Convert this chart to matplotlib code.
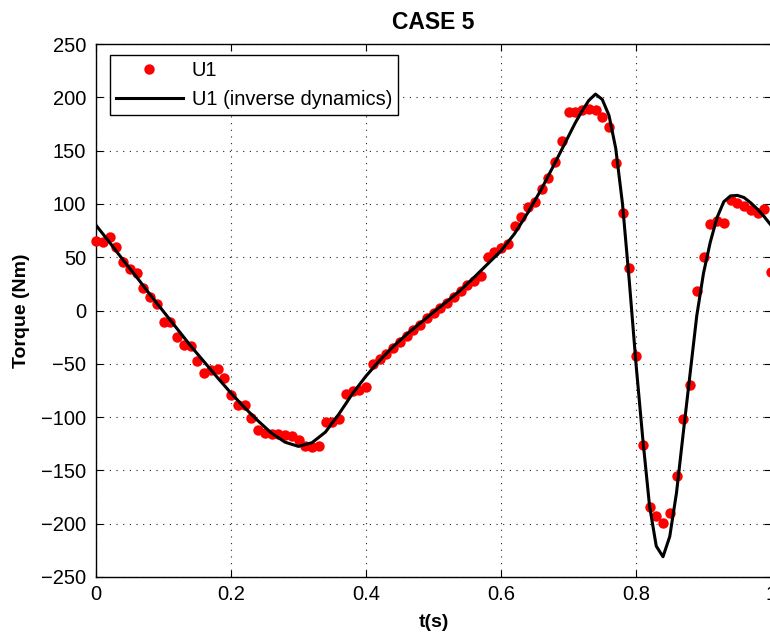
import numpy as np
import matplotlib
matplotlib.use("Agg")
import matplotlib.pyplot as plt

plt.rcParams['font.family'] = ['Liberation Sans', 'DejaVu Sans']

# Measured torque samples (U1), t = 0 .. 1.0 s, step 0.01
u1_t = [i / 100 for i in range(101)]
u1_vals = [
    65.5, 64.6, 68.7, 59.9, 45.8, 39.3, 35.6, 21.4, 13.0, 6.1,
    -11.1, -11.1, -25.1, -32.4, -33.0, -47.1, -58.3, -55.8, -55.2, -63.0,
    -79.3, -89.0, -89.0, -100.6, -112.0, -115.2, -115.9, -116.0, -117.0, -117.8,
    -121.5, -127.0, -127.8, -127.0, -105.0, -104.3, -102.0, -78.5, -75.5, -74.6,
    -71.5, -50.5, -45.6, -40.5, -34.9, -29.9, -23.6, -18.3, -13.6, -7.3,
    -2.7, 2.7, 7.3, 13.0, 18.3, 23.9, 28.0, 32.4, 50.5, 54.6,
    58.3, 62.1, 79.3, 88.0, 97.4, 102.0, 114.3, 124.0, 139.0, 159.3,
    186.5, 186.5, 188.0, 189.0, 188.0, 181.8, 171.9, 138.6, 91.2, 39.6,
    -43.0, -126.2, -184.6, -192.5, -199.0, -190.3, -155.3, -101.8, -69.9, 18.3,
    49.9, 81.1, 84.2, 81.8, 103.7, 100.6, 98.0, 94.3, 91.7, 95.2,
    36.4,
]

# Inverse dynamics curve
inv_t = [0.00, 0.02, 0.04, 0.06, 0.08, 0.10, 0.12, 0.14, 0.16, 0.18,
         0.20, 0.22, 0.24, 0.26, 0.28, 0.30, 0.32, 0.34, 0.36, 0.38,
         0.40, 0.42, 0.44, 0.46, 0.48, 0.50, 0.52, 0.54, 0.56, 0.58,
         0.60, 0.62, 0.64, 0.66, 0.68, 0.70, 0.71, 0.72, 0.73, 0.74,
         0.75, 0.76, 0.77, 0.78, 0.79, 0.80, 0.81, 0.82, 0.83, 0.84,
         0.85, 0.86, 0.87, 0.88, 0.89, 0.90, 0.91, 0.92, 0.93, 0.94,
         0.95, 0.96, 0.97, 0.98, 0.99, 1.00]
inv_vals = [80, 64, 47.5, 31.5, 15, -1, -17, -33, -48, -63,
            -77.5, -91, -103.5, -115, -123.5, -127.5, -124, -114, -97, -78,
            -61.5, -47, -34, -22.5, -12, -1.5, 8.5, 19, 31, 43.5,
            56, 72, 92, 114, 138.5, 163.5, 176, 187, 197, 203,
            198, 183, 152, 100, 28, -50, -120, -183, -221, -231,
            -212, -171, -115, -60, -5, 35, 64, 87, 102, 107.5,
            108, 106, 101, 95, 88, 80]

x_ticks = [0, 0.2, 0.4, 0.6, 0.8, 1.0]
x_ticklabels = ['0', '0.2', '0.4', '0.6', '0.8', '1']
y_ticks = list(range(-250, 251, 50))

fig = plt.figure(figsize=(7.7, 6.35), dpi=100)
ax = fig.add_axes([96 / 770, 1 - 577 / 635, 675 / 770, 533 / 635])

ax.plot(u1_t, u1_vals, 'o', color='#ff0000', markersize=7.5, markeredgewidth=0,
        label='U1', clip_on=False, zorder=3)
ax.plot(inv_t, inv_vals, '-', color='black', linewidth=2.2,
        label='U1 (inverse dynamics)', zorder=4)

ax.set_xlim(0, 1)
ax.set_ylim(-250, 250)
ax.set_xticks(x_ticks)
ax.set_xticklabels(x_ticklabels)
ax.set_yticks(y_ticks)

ax.grid(True, linestyle=(0, (1, 5)), color='#222222', linewidth=0.8)
ax.tick_params(direction='in', length=5, width=0.8, top=True, right=True,
               labelsize=14.5)
ax.tick_params(axis='y', pad=7)
ax.tick_params(axis='x', pad=6)
for s in ax.spines.values():
    s.set_linewidth(1.0)

ax.set_title('CASE 5', fontsize=16.5, fontweight='bold', pad=11)
ax.set_xlabel('t(s)', fontsize=14, fontweight='bold', labelpad=7)
ax.set_ylabel('Torque (Nm)', fontsize=14, fontweight='bold', labelpad=8)

leg = ax.legend(loc='upper left',
                bbox_to_anchor=((110 - 96) / 675, (577 - 55) / 533),
                borderaxespad=0, fontsize=14.5, frameon=True, fancybox=False,
                edgecolor='black', framealpha=1, handlelength=3.3,
                handletextpad=0.45, borderpad=0.3, labelspacing=0.5)
leg.get_frame().set_linewidth(1.0)

fig.savefig('out.png', dpi=100)
